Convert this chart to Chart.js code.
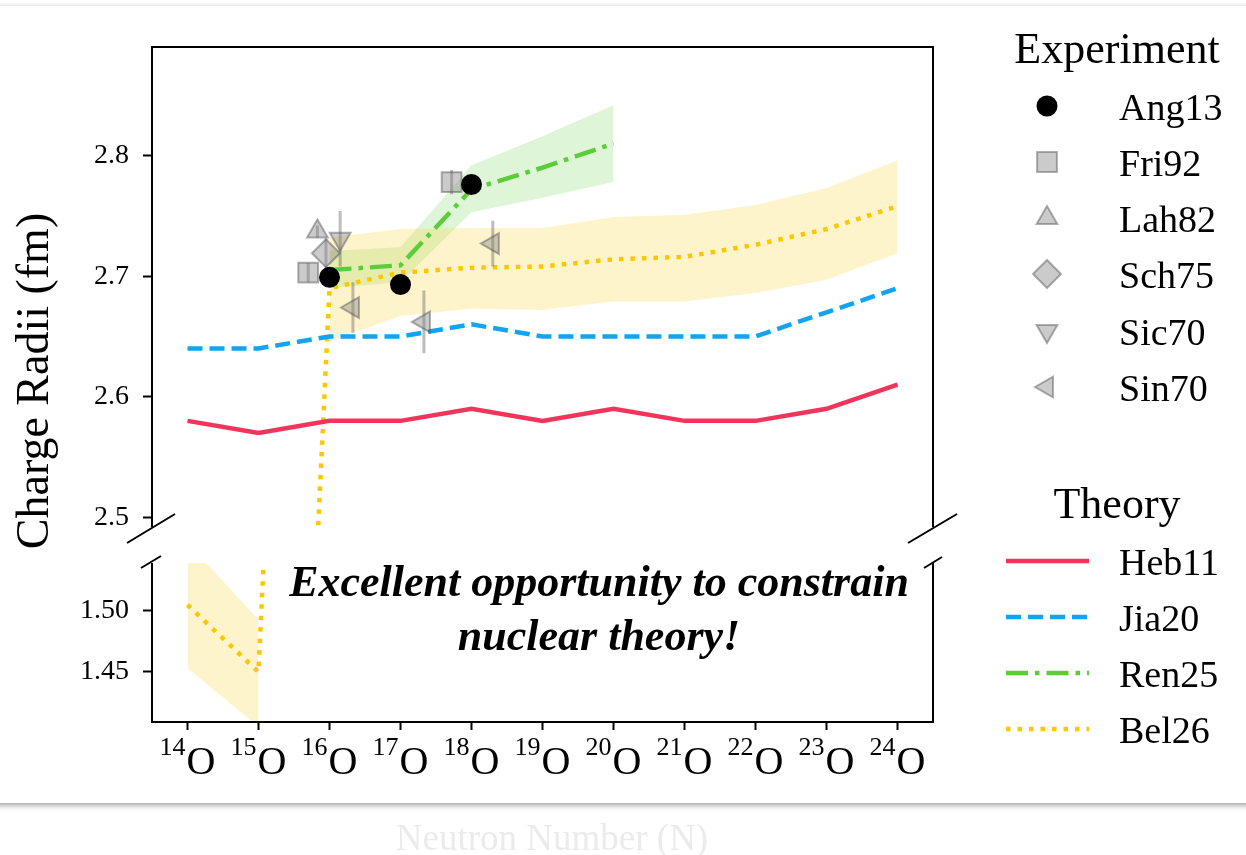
<!DOCTYPE html>
<html>
<head>
<meta charset="utf-8">
<script src="https://cdn.jsdelivr.net/npm/chart.js@4.4.1/dist/chart.umd.min.js"></script>
<style>
  html, body { margin: 0; padding: 0; background: #fff; overflow: hidden; }
  body { width: 1246px; height: 855px; position: relative; }
  .card { position: absolute; left: -20px; top: 6px; width: 1286px; height: 797px; background: #fff; box-shadow: 0 2px 6px rgba(0,0,0,0.4); }
  canvas { position: absolute; left: 0; top: 0; }
</style>
</head>
<body>
<div class="card"></div>
<canvas id="upper" width="1246" height="855"></canvas>
<canvas id="lower" width="1246" height="855"></canvas>
<script>
// oxygen isotopes 14O .. 24O
const nuclei = [14, 15, 16, 17, 18, 19, 20, 21, 22, 23, 24];
const massLabels = ['14', '15', '16', '17', '18', '19', '20', '21', '22', '23', '24'];

// theory curves
const heb11 = [2.58, 2.57, 2.58, 2.58, 2.59, 2.58, 2.59, 2.58, 2.58, 2.59, 2.61];
const jia20 = [2.64, 2.64, 2.65, 2.65, 2.66, 2.65, 2.65, 2.65, 2.65, 2.67, 2.69];
const bel26 = [1.505, 1.450, 2.690, 2.703, 2.707, 2.708, 2.714, 2.716, 2.726, 2.739, 2.758];
const ren25N = [16, 17, 18, 19, 20];
const ren25 = [2.705, 2.709, 2.772, 2.790, 2.810];
const ren25Lo = [2.690, 2.695, 2.753, 2.765, 2.778];
const ren25Hi = [2.721, 2.724, 2.792, 2.816, 2.842];

// Bel26 uncertainty band, two separate pieces
const bel26BandLightN = [14, 15];
const bel26BandLightLo = [1.453, 1.405];
const bel26BandLightHi = [1.556, 1.493];
const bel26BandHeavyN = [16, 17, 18, 19, 20, 21, 22, 23, 24];
const bel26BandHeavyLo = [2.646, 2.667, 2.673, 2.672, 2.679, 2.679, 2.686, 2.697, 2.719];
const bel26BandHeavyHi = [2.732, 2.739, 2.740, 2.740, 2.749, 2.751, 2.759, 2.773, 2.796];

// experiments (x slightly offset from the integer N as in the figure)
const ang13N = [16, 17, 18];
const ang13 = [2.699, 2.693, 2.776];
const fri92N = [15.70, 17.72];
const fri92 = [2.703, 2.778];
const fri92Err = [0.008, 0.010];
const lah82N = [15.83];
const lah82 = [2.737];
const lah82Err = [0.005];
const sch75N = [15.95];
const sch75 = [2.719];
const sch75Err = [0.012];
const sic70N = [16.15];
const sic70 = [2.731];
const sic70Err = [0.023];
const sin70N = [16.33, 17.33, 18.30];
const sin70 = [2.674, 2.662, 2.727];
const sin70Err = [0.021, 0.026, 0.019];

// axis ticks
const upperTicks = [2.5, 2.6, 2.7, 2.8];
const upperTickLabels = ['2.5', '2.6', '2.7', '2.8'];
const lowerTicks = [1.45, 1.50];
const lowerTickLabels = ['1.45', '1.50'];

const serif = "'Liberation Serif', 'Times New Roman', serif";

// styles shared between datasets and the legend
const theoryStyle = {
    Heb11: { color: '#f2335b', dash: [] },
    Jia20: { color: '#12a4f0', dash: [15, 7] },
    Ren25: { color: '#5ccd3a', dash: [22, 7, 4.5, 7] },
    Bel26: { color: '#fbc800', dash: [4.5, 7] },
};
const lineWidth = 4.5;
const grayFill = 'rgba(130,130,130,0.42)';
const grayEdge = 'rgba(80,80,80,0.45)';
const expStyle = {
    Ang13: { style: 'circle', rotation: 0, radius: 10.5, fill: '#000', edge: '#000', edgeWidth: 0 },
    Fri92: { style: 'rect', rotation: 0, radius: 14, fill: grayFill, edge: grayEdge, edgeWidth: 2 },
    Lah82: { style: 'triangle', rotation: 0, radius: 12, fill: grayFill, edge: grayEdge, edgeWidth: 2 },
    Sch75: { style: 'rectRot', rotation: 0, radius: 14, fill: grayFill, edge: grayEdge, edgeWidth: 2 },
    Sic70: { style: 'triangle', rotation: 180, radius: 12, fill: grayFill, edge: grayEdge, edgeWidth: 2 },
    Sin70: { style: 'triangle', rotation: 270, radius: 12, fill: grayFill, edge: grayEdge, edgeWidth: 2 },
};
const errColor = 'rgba(90,90,90,0.4)';

const pts = (xs, ys) => xs.map((x, i) => ({ x: x, y: ys[i] }));

function errPts(xs, ys, es) {
    const out = [];
    xs.forEach((x, i) => {
        out.push({ x: x, y: ys[i] - es[i] }, { x: x, y: ys[i] + es[i] }, { x: x, y: null });
    });
    return out;
}

function buildDatasets() {
    const band = (xs, ys, color, fill) => ({
        data: pts(xs, ys), borderWidth: 0, borderColor: 'transparent',
        backgroundColor: color, pointRadius: 0, fill: fill, order: 30,
    });
    const theory = (name, xs, ys) => ({
        data: pts(xs, ys), borderColor: theoryStyle[name].color, borderWidth: lineWidth,
        borderDash: theoryStyle[name].dash, pointRadius: 0, fill: false, order: 10,
    });
    const errs = (xs, ys, es) => ({
        data: errPts(xs, ys, es), borderColor: errColor, borderWidth: 3,
        pointRadius: 0, fill: false, order: 6,
    });
    const marks = (name, xs, ys, order) => {
        const s = expStyle[name];
        return {
            data: pts(xs, ys), showLine: false, pointStyle: s.style, pointRotation: s.rotation,
            pointRadius: s.radius, pointBackgroundColor: s.fill, pointBorderColor: s.edge,
            pointBorderWidth: s.edgeWidth, borderColor: s.edge, backgroundColor: s.fill, order: order,
        };
    };
    const belFill = 'rgba(252,200,0,0.2)';
    const renFill = 'rgba(95,205,60,0.2)';
    return [
        band(bel26BandHeavyN, bel26BandHeavyHi, belFill, '+1'),
        band(bel26BandHeavyN, bel26BandHeavyLo, belFill, false),
        band(bel26BandLightN, bel26BandLightHi, belFill, '+1'),
        band(bel26BandLightN, bel26BandLightLo, belFill, false),
        band(ren25N, ren25Hi, renFill, '+1'),
        band(ren25N, ren25Lo, renFill, false),
        theory('Heb11', nuclei, heb11),
        theory('Jia20', nuclei, jia20),
        theory('Bel26', nuclei, bel26),
        theory('Ren25', ren25N, ren25),
        errs(fri92N, fri92, fri92Err),
        errs(lah82N, lah82, lah82Err),
        errs(sch75N, sch75, sch75Err),
        errs(sic70N, sic70, sic70Err),
        errs(sin70N, sin70, sin70Err),
        marks('Fri92', fri92N, fri92, 5),
        marks('Lah82', lah82N, lah82, 5),
        marks('Sch75', sch75N, sch75, 5),
        marks('Sic70', sic70N, sic70, 5),
        marks('Sin70', sin70N, sin70, 5),
        marks('Ang13', ang13N, ang13, 1),
    ];
}

function yScale(min, max, ticks, labels) {
    return {
        min: min, max: max,
        afterFit: (s) => { s.width = 152; },
        afterBuildTicks: (s) => { s.ticks = ticks.map(v => ({ value: v })); },
        ticks: {
            callback: (v, i) => labels[i], color: '#000', padding: 14,
            font: { family: serif, size: 28 },
        },
        grid: { drawOnChartArea: false, drawTicks: true, tickLength: 9, tickColor: '#000', tickWidth: 2 },
        border: { display: false },
    };
}

function line(ctx, x1, y1, x2, y2) {
    ctx.beginPath();
    ctx.moveTo(x1, y1);
    ctx.lineTo(x2, y2);
    ctx.stroke();
}

function drawMarker(ctx, s, x, y) {
    ctx.save();
    ctx.fillStyle = s.fill;
    ctx.strokeStyle = s.edge;
    ctx.lineWidth = s.edgeWidth;
    Chart.helpers.drawPoint(ctx, { pointStyle: s.style, rotation: s.rotation, radius: s.radius, borderWidth: s.edgeWidth }, x, y);
    ctx.restore();
}

// frame of the upper panel: top, left and right spines plus break marks
const upperFrame = {
    id: 'upperFrame',
    afterDraw(chart) {
        const { ctx, chartArea: a } = chart;
        ctx.save();
        ctx.strokeStyle = '#000';
        ctx.lineWidth = 2;
        ctx.beginPath();
        ctx.moveTo(a.left, a.bottom);
        ctx.lineTo(a.left, a.top);
        ctx.lineTo(a.right, a.top);
        ctx.lineTo(a.right, a.bottom);
        ctx.stroke();
        line(ctx, a.left - 25, a.bottom + 16, a.left + 23, a.bottom - 13);
        line(ctx, a.right - 25, a.bottom + 16, a.right + 24, a.bottom - 13);
        ctx.restore();
    },
};

// lower panel frame plus all page-level text: tick labels, titles, legend, note
const lowerFrame = {
    id: 'lowerFrame',
    afterDraw(chart) {
        const { ctx, chartArea: a } = chart;
        const xs = chart.scales.x;
        ctx.save();
        ctx.strokeStyle = '#000';
        ctx.lineWidth = 2;
        ctx.beginPath();
        ctx.moveTo(a.left, a.top);
        ctx.lineTo(a.left, a.bottom);
        ctx.lineTo(a.right, a.bottom);
        ctx.lineTo(a.right, a.top);
        ctx.stroke();
        line(ctx, a.left - 11, a.top + 5, a.left + 9, a.top - 7);
        line(ctx, a.right - 9, a.top + 5, a.right + 9, a.top - 6);

        // x tick labels like ^{14}O
        ctx.fillStyle = '#000';
        ctx.textBaseline = 'alphabetic';
        ctx.textAlign = 'left';
        const supFont = '26px ' + serif;
        const oFont = '40px ' + serif;
        nuclei.forEach((n, i) => {
            ctx.font = supFont;
            const ws = ctx.measureText(massLabels[i]).width;
            ctx.font = oFont;
            const wo = ctx.measureText('O').width;
            const x0 = xs.getPixelForValue(n) - (ws + wo + 1) / 2;
            ctx.font = supFont;
            ctx.fillText(massLabels[i], x0, 755);
            ctx.font = oFont;
            ctx.fillText('O', x0 + ws + 1, 774);
        });

        // y title
        ctx.save();
        ctx.translate(48, 381);
        ctx.rotate(-Math.PI / 2);
        ctx.textAlign = 'center';
        ctx.font = '46px ' + serif;
        ctx.fillText('Charge Radii (fm)', 0, 0);
        ctx.restore();

        // x title, faint, below the card
        ctx.textAlign = 'center';
        ctx.font = '37px ' + serif;
        ctx.fillStyle = '#ebebeb';
        ctx.fillText('Neutron Number (N)', 552, 850);

        // note
        ctx.fillStyle = '#000';
        ctx.font = 'bold italic 44px ' + serif;
        ctx.fillText('Excellent opportunity to constrain', 599, 596);
        ctx.fillText('nuclear theory!', 599, 650);

        // legend: experiment
        ctx.font = '44px ' + serif;
        ctx.fillText('Experiment', 1117, 63);
        ctx.fillText('Theory', 1117, 518);
        ctx.textAlign = 'left';
        ctx.font = '38px ' + serif;
        const expNames = ['Ang13', 'Fri92', 'Lah82', 'Sch75', 'Sic70', 'Sin70'];
        const expBase = [120, 176, 232, 288, 345, 401];
        expNames.forEach((name, i) => {
            drawMarker(ctx, expStyle[name], 1047, expBase[i] - 14);
            ctx.fillStyle = '#000';
            ctx.fillText(name, 1119, expBase[i]);
        });
        // legend: theory
        const thNames = ['Heb11', 'Jia20', 'Ren25', 'Bel26'];
        const thBase = [575, 631, 687, 743];
        thNames.forEach((name, i) => {
            ctx.save();
            ctx.strokeStyle = theoryStyle[name].color;
            ctx.lineWidth = lineWidth;
            ctx.setLineDash(theoryStyle[name].dash);
            line(ctx, 1006, thBase[i] - 14, 1089, thBase[i] - 14);
            ctx.restore();
            ctx.fillStyle = '#000';
            ctx.fillText(name, 1119, thBase[i]);
        });
        ctx.restore();
    },
};

const common = {
    responsive: false,
    animation: false,
    events: [],
    plugins: { legend: { display: false }, tooltip: { enabled: false } },
    elements: { line: { tension: 0 } },
};

new Chart(document.getElementById('upper'), {
    type: 'line',
    data: { datasets: buildDatasets() },
    options: Object.assign({}, common, {
        layout: { padding: { left: 0, right: 313, top: 47, bottom: 328 } },
        scales: {
            x: { type: 'linear', min: 13.5, max: 24.5, display: false },
            y: yScale(2.492, 2.89, upperTicks, upperTickLabels),
        },
    }),
    plugins: [upperFrame],
});

new Chart(document.getElementById('lower'), {
    type: 'line',
    data: { datasets: buildDatasets() },
    options: Object.assign({}, common, {
        layout: { padding: { left: 0, right: 313, top: 563, bottom: 73 } },
        scales: {
            x: {
                type: 'linear', min: 13.5, max: 24.5,
                afterFit: (s) => { s.height = 60; },
                afterBuildTicks: (s) => { s.ticks = nuclei.map(v => ({ value: v })); },
                ticks: { autoSkip: false, callback: () => '', font: { family: serif, size: 20 } },
                grid: { drawOnChartArea: false, drawTicks: true, tickLength: 8, tickColor: '#000', tickWidth: 2 },
                border: { display: false },
            },
            y: yScale(1.409, 1.5393, lowerTicks, lowerTickLabels),
        },
    }),
    plugins: [lowerFrame],
});
</script>
</body>
</html>
